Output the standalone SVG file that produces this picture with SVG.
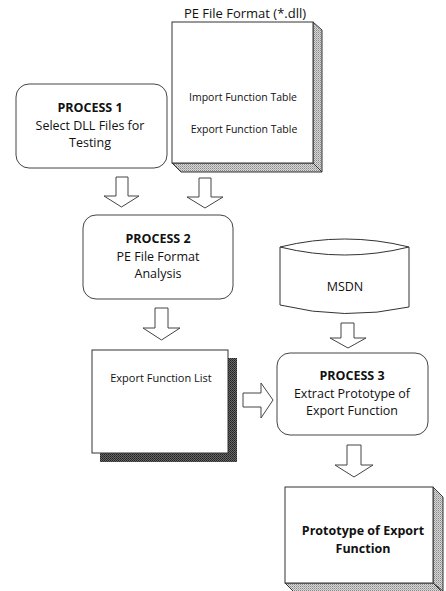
<svg xmlns="http://www.w3.org/2000/svg" width="446" height="591" viewBox="0 0 446 591">
<defs>
<pattern id="hatch" width="2" height="2" patternUnits="userSpaceOnUse">
<rect width="2" height="2" fill="#d8d8d8"/>
<rect width="1" height="1" fill="#888"/>
<rect x="1" y="1" width="1" height="1" fill="#aaa"/>
</pattern>
<pattern id="dark" width="2" height="2" patternUnits="userSpaceOnUse">
<rect width="2" height="2" fill="#666"/>
<rect width="1" height="1" fill="#222"/>
<rect x="1" y="1" width="1" height="1" fill="#333"/>
</pattern>
</defs>
<style>
.box{fill:#fff;stroke:#333;stroke-width:1}
.proc{fill:#fff;stroke:#444;stroke-width:1}
.ext{fill:url(#hatch);stroke:#333;stroke-width:1}
.arrow{fill:#fff;stroke:#444;stroke-width:1;stroke-linejoin:miter}
text{font-family:"Open Sans","Noto Sans","DejaVu Sans",sans-serif;fill:#111;text-anchor:middle}
.b{font-weight:bold;font-size:12.5px}
.n{font-size:12.5px}
.s{font-size:10.5px}
</style>
<rect width="446" height="591" fill="#fff"/>

<g id="pe-file">
<text x="245" y="18" style="font-size:13px">PE File Format (*.dll)</text>
<polygon class="ext" points="313,22 322,30 322,172 313,163"/>
<polygon class="ext" points="172,163 313,163 322,172 181,172"/>
<rect class="box" x="172" y="22" width="141" height="141"/>
<text class="s" x="243" y="101">Import Function Table</text>
<text class="s" x="244" y="133">Export Function Table</text>
</g>

<g id="process1">
<rect class="proc" x="16" y="84" width="151" height="84" rx="13" ry="13"/>
<text class="b" x="90" y="112">PROCESS 1</text>
<text class="n" x="90" y="129.5">Select DLL Files for</text>
<text class="n" x="90" y="147">Testing</text>
</g>

<g id="process2">
<rect class="proc" x="83" y="215" width="150" height="84" rx="13" ry="13"/>
<text class="b" x="158" y="243">PROCESS 2</text>
<text class="n" x="158" y="260.5">PE File Format</text>
<text class="n" x="158" y="278">Analysis</text>
</g>

<g id="msdn">
<path class="box" d="M280,247 Q345,231 409,247 L409,307 Q345,321 280,305 Z"/>
<path d="M280,247 Q345,263 409,247" fill="none" stroke="#333" stroke-width="1"/>
<text class="n" x="345" y="291">MSDN</text>
</g>

<g id="export-list">
<rect x="100" y="358" width="137" height="104" fill="url(#dark)"/>
<rect class="box" x="92" y="350" width="136" height="103"/>
<text x="161" y="382" style="font-size:11px">Export Function List</text>
</g>

<g id="process3">
<rect class="proc" x="277" y="353" width="151" height="82" rx="13" ry="13"/>
<text class="b" x="352" y="380">PROCESS 3</text>
<text class="n" x="352" y="397.5">Extract Prototype of</text>
<text class="n" x="352" y="415">Export Function</text>
</g>

<g id="prototype">
<polygon class="ext" points="433,487 443,497 443,591 433,583"/>
<polygon class="ext" points="285,583 433,583 443,593 295,593"/>
<rect class="box" x="285" y="487" width="148" height="96"/>
<text class="b" x="363" y="535">Prototype of Export</text>
<text class="b" x="363" y="552.5">Function</text>
</g>

<g id="connectors">
<polygon class="arrow" points="116,177 128,177 128,196 139,196 121.5,207 104,196 116,196"/>
<polygon class="arrow" points="199,178 211,178 211,197 223,197 205,208 187,197 199,197"/>
<polygon class="arrow" points="155,308 168,308 168,328 180,328 161.5,340 143,328 155,328"/>
<polygon class="arrow" points="341,323 354,323 354,338 366,338 348,348 330,338 341,338"/>
<polygon class="arrow" points="243,393 261,393 261,383 273,400 261,418 261,407 243,407"/>
<polygon class="arrow" points="347,445 361,445 361,465 373,465 354,477 335,465 347,465"/>
</g>
</svg>
